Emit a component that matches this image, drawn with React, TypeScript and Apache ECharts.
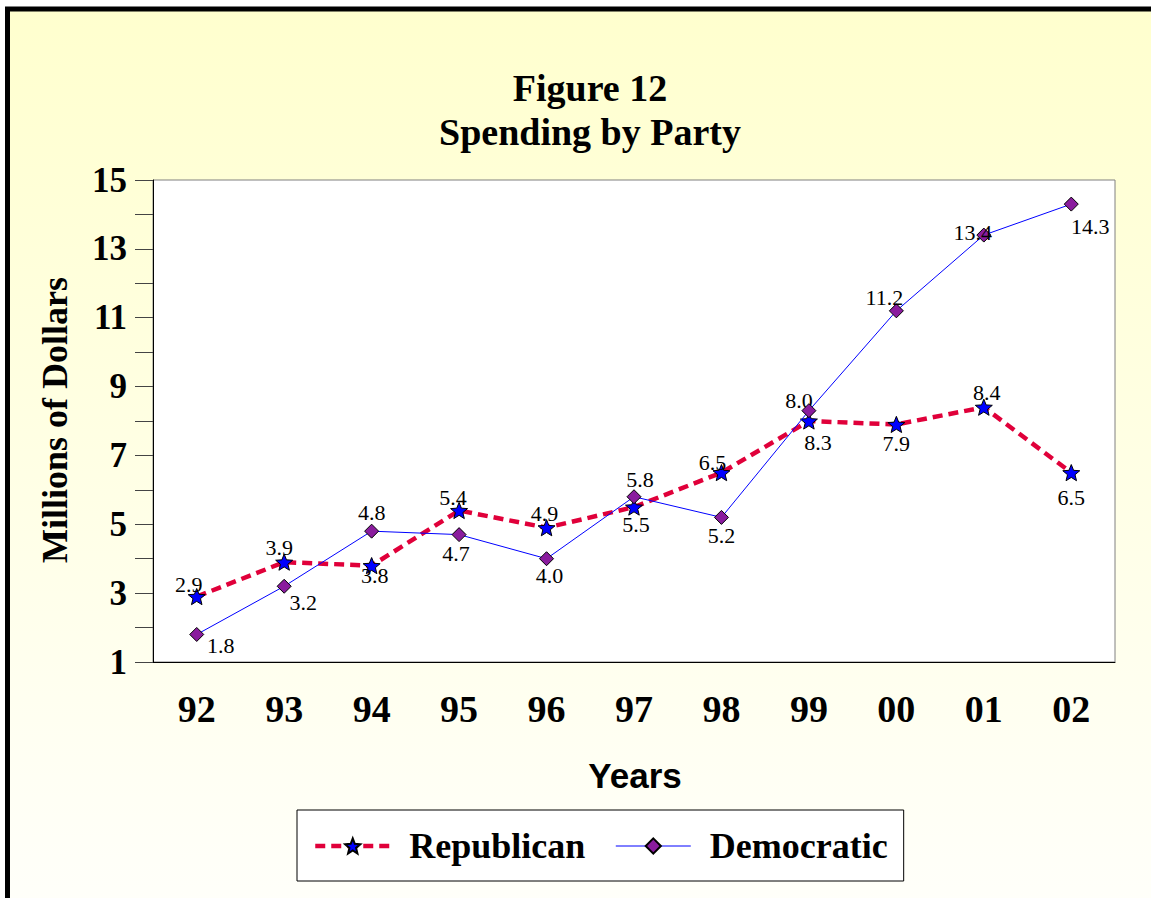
import React, { useEffect, useRef } from "react";
import * as echarts from "echarts";

const years = ["92", "93", "94", "95", "96", "97", "98", "99", "00", "01", "02"];
const republican = [2.9, 3.9, 3.8, 5.4, 4.9, 5.5, 6.5, 8.0, 7.9, 8.4, 6.5];
const democratic = [1.8, 3.2, 4.8, 4.7, 4.0, 5.8, 5.2, 8.3, 11.2, 13.4, 14.3];
const yTickLabels = [1, 3, 5, 7, 9, 11, 13, 15];

// label placement (style only): offset of each value label from its point
const repLabelOffsets = [[-8, -12], [-5, -15], [3, 10], [-6, -13], [-2, -14], [2, 17], [-9, -10], [-10, -21], [0, 19], [3, -15], [0, 25]];
const demLabelOffsets = [[24, 11], [19, 16], [0, -19], [-3, 19], [3, 17], [6, -17], [0, 18], [9, 32], [-12, -13], [-11, -3], [19, 22]];

const SERIF = "'Liberation Serif', 'Times New Roman', serif";
const SANS = "'Liberation Sans', Arial, sans-serif";
const RED = "#E0003A";

function starPath(): string {
  const pts: string[] = [];
  for (let k = 0; k < 10; k++) {
    const r = k % 2 === 0 ? 50 : 22;
    const a = (-90 + k * 36) * Math.PI / 180;
    pts.push((50 + r * Math.cos(a)).toFixed(2) + " " + (50 + r * Math.sin(a)).toFixed(2));
  }
  return "path://M" + pts.join(" L") + " Z";
}

export default function App() {
  const ref = useRef<HTMLDivElement>(null);
  useEffect(() => {
    if (!ref.current) return;
    const chart = echarts.init(ref.current, null, { renderer: "svg" });
    const labelBase = {
      show: true,
      position: "inside",
      color: "#000",
      fontFamily: SERIF,
      fontSize: 22,
      formatter: (p: any) => Number(p.value).toFixed(1),
    };
    chart.setOption({
      animation: false,
      backgroundColor: "#ffffff",
      graphic: [
        {
          type: "rect",
          z: -10,
          silent: true,
          shape: { x: 7.5, y: 9, width: 1300, height: 1000 },
          style: {
            fill: {
              type: "linear", x: 0, y: 0, x2: 0, y2: 1,
              colorStops: [
                { offset: 0, color: "#FFFFCE" },
                { offset: 0.85, color: "#FFFFF8" },
                { offset: 1, color: "#FFFFFD" },
              ],
            },
            stroke: "#000",
            lineWidth: 5,
          },
        },
        {
          type: "text", z: 10, x: 590, y: 88,
          style: { text: "Figure 12", font: "bold 38px " + SERIF, fill: "#000", textAlign: "center", textVerticalAlign: "middle" },
        },
        {
          type: "text", z: 10, x: 590, y: 132,
          style: { text: "Spending by Party", font: "bold 38px " + SERIF, fill: "#000", textAlign: "center", textVerticalAlign: "middle" },
        },
        {
          type: "text", z: 10, x: 55, y: 420, rotation: Math.PI / 2,
          style: { text: "Millions of Dollars", font: "bold 36px " + SERIF, fill: "#000", textAlign: "center", textVerticalAlign: "middle" },
        },
        {
          type: "text", z: 10, x: 635, y: 775,
          style: { text: "Years", font: "bold 35px " + SANS, fill: "#000", textAlign: "center", textVerticalAlign: "middle" },
        },
      ],
      grid: {
        left: 153, top: 180, right: 36, bottom: 236,
        show: true, backgroundColor: "#ffffff", borderColor: "#808080", borderWidth: 1,
      },
      legend: {
        left: 297, top: 810,
        orient: "horizontal",
        padding: [18, 16, 17, 16],
        backgroundColor: "#ffffff",
        borderColor: "#000",
        borderWidth: 1,
        itemWidth: 75,
        itemHeight: 19,
        itemGap: 30,
        textStyle: { fontFamily: SERIF, fontWeight: "bold", fontSize: 36, color: "#000", padding: [0, 0, 0, 14] },
        data: [
          { name: "Republican", lineStyle: { color: RED, width: 4.5, type: [10, 6] } },
          { name: "Democratic", lineStyle: { color: "#0000FF", width: 1 } },
        ],
      },
      xAxis: {
        type: "category",
        data: years,
        boundaryGap: true,
        axisLine: { show: true, lineStyle: { color: "#000", width: 1 } },
        axisTick: { show: false },
        axisLabel: { fontFamily: SERIF, fontWeight: "bold", fontSize: 38, color: "#000", margin: 28 },
        splitLine: { show: false },
      },
      yAxis: {
        type: "value",
        min: 1, max: 15, interval: 1,
        axisLine: { show: true, lineStyle: { color: "#000", width: 1 } },
        axisTick: { show: true, inside: false, length: 18, lineStyle: { color: "#444", width: 1 } },
        axisLabel: {
          fontFamily: SERIF, fontWeight: "bold", fontSize: 35, color: "#000", margin: 26,
          formatter: (v: number) => (yTickLabels.includes(v) ? String(v) : ""),
        },
        splitLine: { show: false },
      },
      series: [
        {
          name: "Republican",
          type: "line",
          data: republican.map((v, i) => ({ value: v, label: { offset: repLabelOffsets[i] } })),
          symbol: starPath(),
          symbolKeepAspect: true,
          symbolSize: 17,
          lineStyle: { color: RED, width: 4.5, type: [10, 6] },
          itemStyle: { color: "#0000FF", borderColor: "#000", borderWidth: 1 },
          label: labelBase,
          z: 3,
        },
        {
          name: "Democratic",
          type: "line",
          data: democratic.map((v, i) => ({ value: v, label: { offset: demLabelOffsets[i] } })),
          symbol: "diamond",
          symbolSize: 14,
          lineStyle: { color: "#0000FF", width: 1 },
          itemStyle: { color: "#8A1C9E", borderColor: "#000", borderWidth: 1 },
          label: labelBase,
          z: 4,
        },
      ],
    });
    return () => chart.dispose();
  }, []);
  return <div ref={ref} style={{ position: "absolute", left: 0, top: 0, width: 1151, height: 898 }} />;
}
